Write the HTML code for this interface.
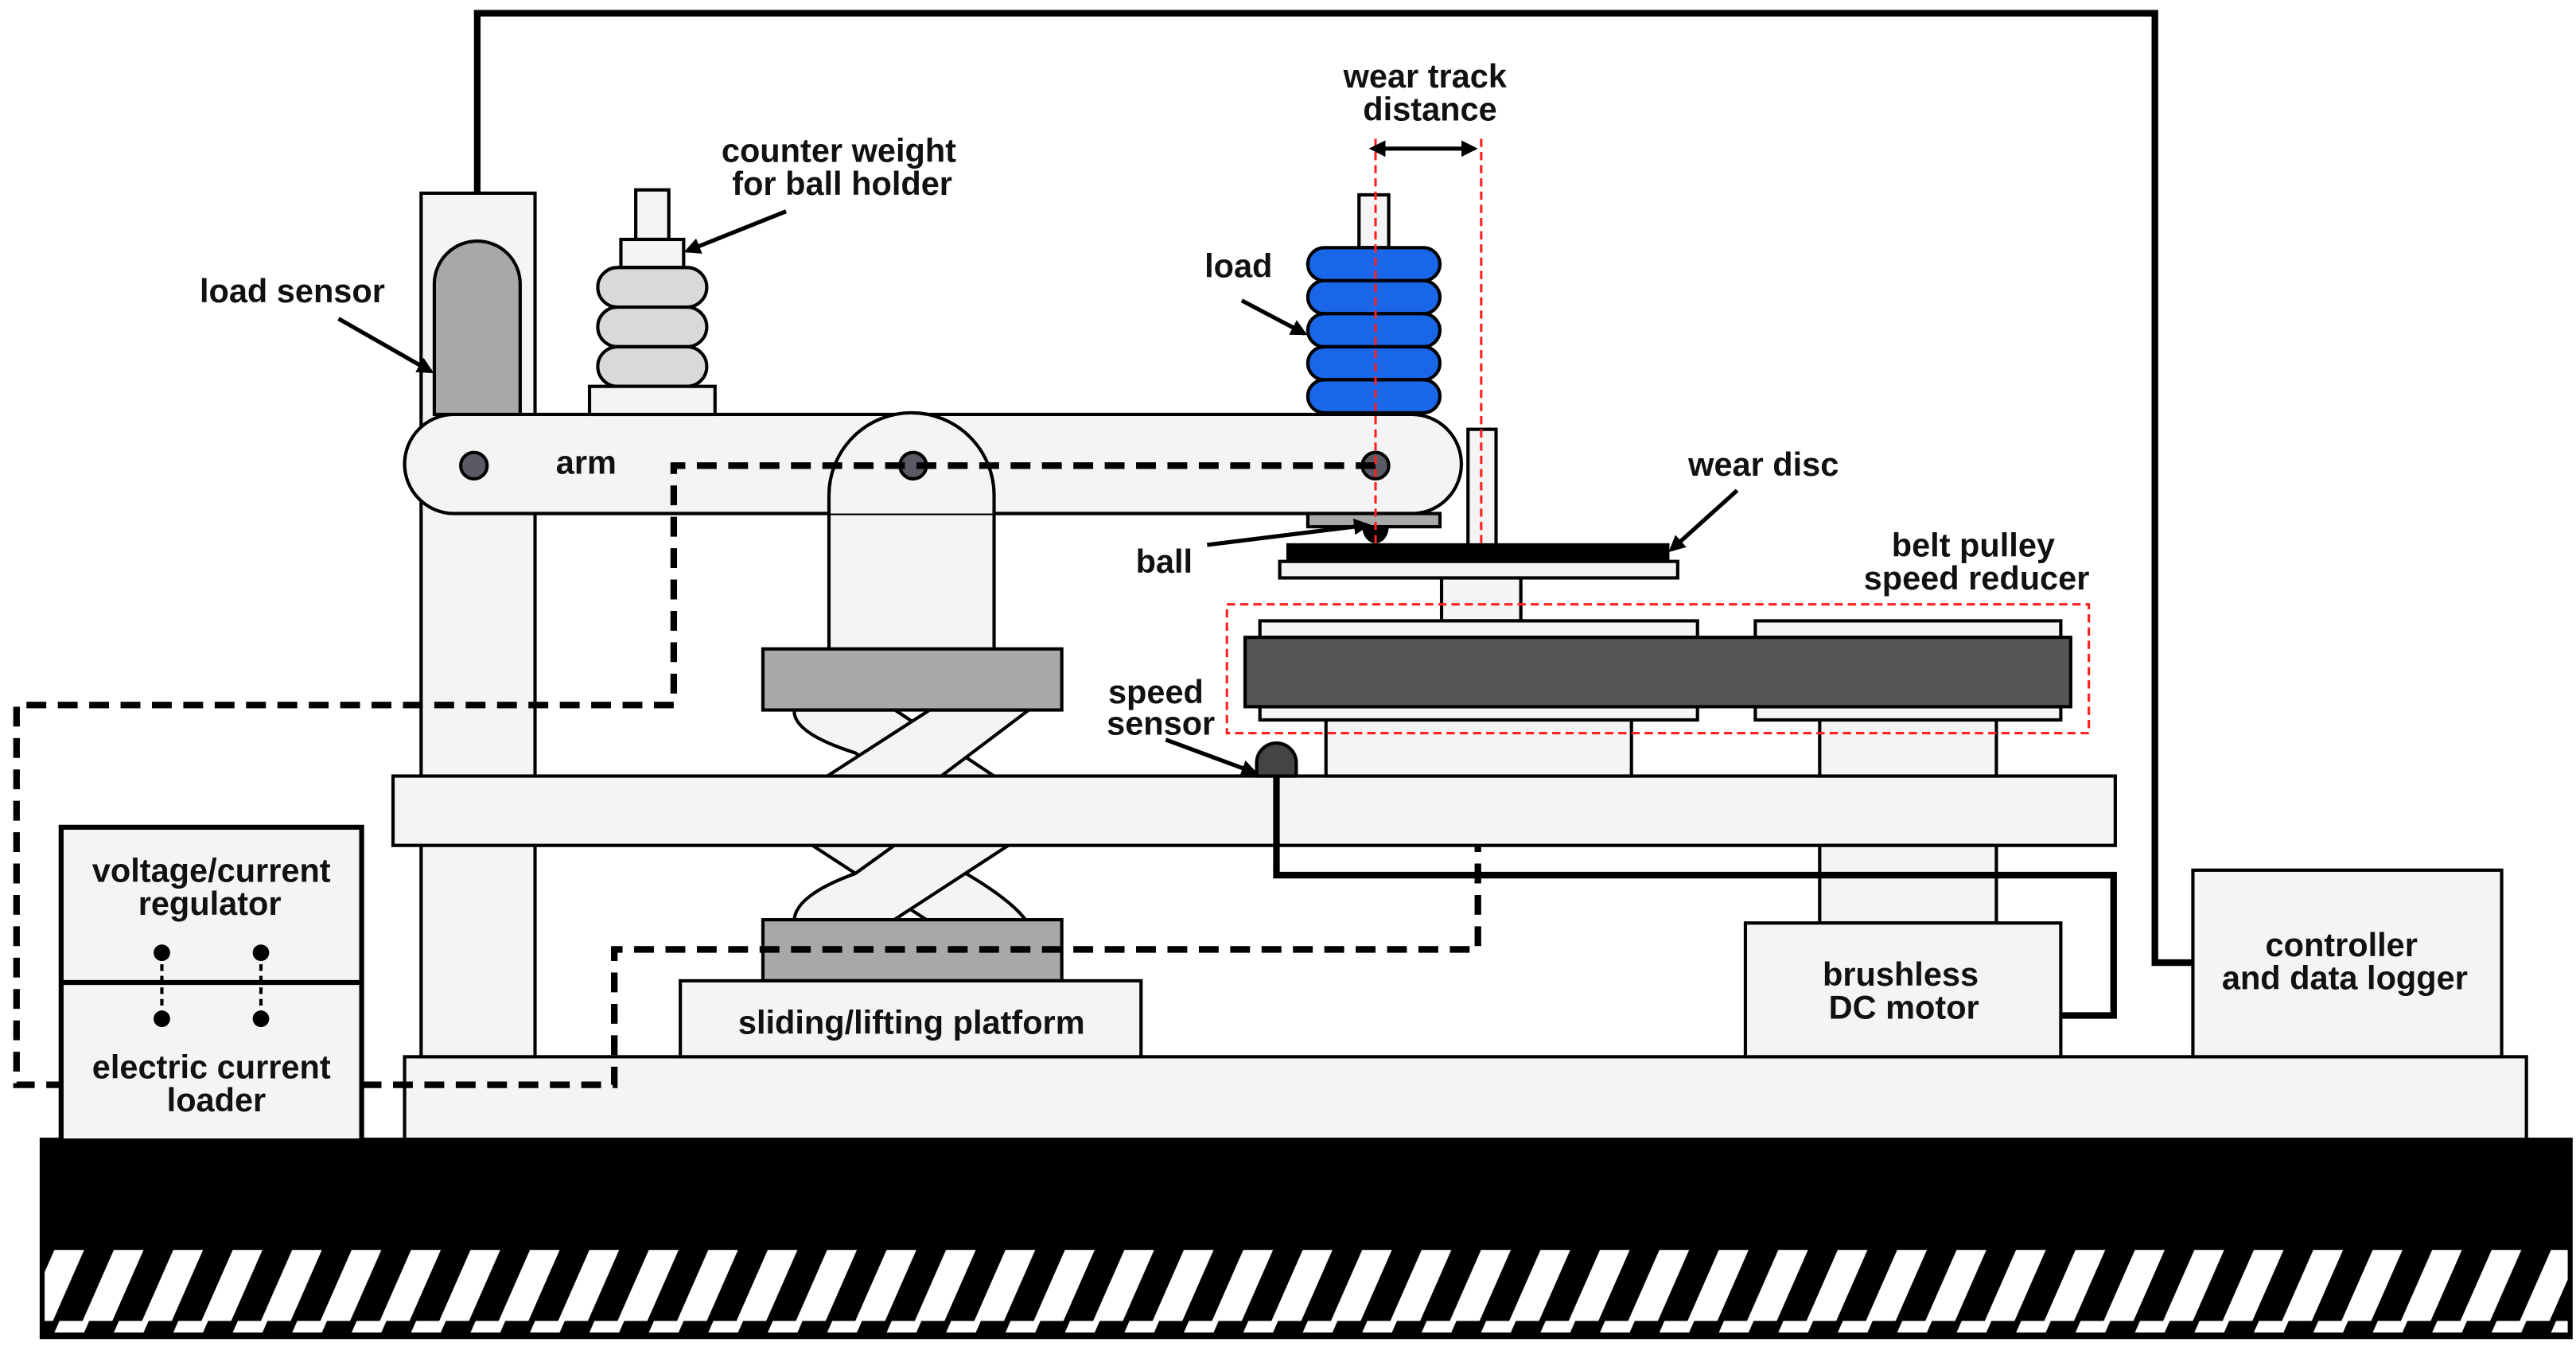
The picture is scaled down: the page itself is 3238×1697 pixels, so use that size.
<!DOCTYPE html>
<html><head><meta charset="utf-8"><style>html,body{margin:0;padding:0;background:#fff}svg{display:block}</style></head>
<body>
<svg width="3238" height="1697" viewBox="0 0 1560 817.6" xmlns="http://www.w3.org/2000/svg" font-family="Liberation Sans, sans-serif" font-weight="bold" font-size="20">
<defs>
<marker id="ah" markerWidth="10" markerHeight="10" refX="8" refY="5" orient="auto" markerUnits="userSpaceOnUse"><path d="M0,0 L10,5 L0,10 z" fill="#000"/></marker>
<marker id="ah2" markerWidth="10" markerHeight="10" refX="2" refY="5" orient="auto-start-reverse" markerUnits="userSpaceOnUse"><path d="M0,0 L10,5 L0,10 z" fill="#000"/></marker>
<pattern id="hatch" width="36" height="50" patternUnits="userSpaceOnUse"><rect width="36" height="50" fill="#000"/><polygon points="14,50 32,50 54,0 36,0" fill="#fff"/><polygon points="-22,50 -4,50 18,0 0,0" fill="#fff"/></pattern>
</defs>
<g stroke="#000" stroke-width="2">
<path d="M289,145 V8 H1305 V583 H1328" fill="none" stroke-width="4"/>
<rect x="25" y="690" width="1532" height="120" fill="#000"/>
<rect x="27" y="757" width="1528" height="50" fill="url(#hatch)" stroke="none"/>
<rect x="245" y="640" width="1285" height="50" fill="#f4f4f4"/>
<rect x="255" y="117" width="69" height="523" fill="#f4f4f4"/>
<!-- scissor upper -->
<g fill="#f4f4f4">
<path d="M481,430 L542,430 L602,470 L537,470 L518,456 Q480,444 481,430 Z"/>
<path d="M563,430 L623,430 L570,470 L501,470 Z"/>
<!-- scissor lower -->
<path d="M492,512 L545,512 L585,529 Q612,545 621,557 L561,557 Z"/>
<path d="M541.6,512 L610.6,512 L541.6,557 L481,557 Q482,542 518,529 Z"/>
</g>
<path d="M502,393 V300 A50,50 0 0 1 602,300 V393" fill="#f4f4f4"/>
<rect x="462" y="393" width="181" height="37" fill="#a8a8a8"/>
<rect x="462" y="557" width="181" height="37" fill="#a8a8a8"/>
<rect x="412" y="594" width="279" height="46" fill="#f4f4f4"/>
<rect x="238" y="470" width="1043" height="42" fill="#f4f4f4"/>
<rect x="803" y="436" width="185" height="34" fill="#f4f4f4"/>
<rect x="1102" y="436" width="107" height="34" fill="#f4f4f4"/>
<rect x="1102" y="512" width="107" height="47" fill="#f4f4f4"/>
<rect x="1057" y="559" width="191" height="81" fill="#f4f4f4"/>
<rect x="1328" y="527" width="187" height="113" fill="#f4f4f4"/>
<rect x="873" y="350" width="48" height="26" fill="#f4f4f4"/>
<rect x="763" y="376" width="265" height="10" fill="#f4f4f4"/>
<rect x="763" y="428" width="265" height="8" fill="#f4f4f4"/>
<rect x="1063" y="376" width="185" height="10" fill="#f4f4f4"/>
<rect x="1063" y="428" width="185" height="8" fill="#f4f4f4"/>
<rect x="754" y="386" width="500" height="42" fill="#555"/>
<rect x="245" y="251" width="640" height="60" rx="30" fill="#f4f4f4"/>
<path d="M502,311 V300 A50,50 0 0 1 602,300 V311" fill="#f4f4f4" stroke="none"/>
<path d="M502,311 V300 A50,50 0 0 1 602,300 V311" fill="none"/>
<path d="M263,251 V172 A26,26 0 0 1 315,172 V251 Z" fill="#a8a8a8"/>
<rect x="385" y="115" width="20" height="30" fill="#f4f4f4"/>
<rect x="376" y="145" width="38" height="17" fill="#f4f4f4"/>
<rect x="362" y="162" width="66" height="24" rx="12" fill="#d9d9d9"/>
<rect x="362" y="186" width="66" height="24" rx="12" fill="#d9d9d9"/>
<rect x="362" y="210" width="66" height="24" rx="12" fill="#d9d9d9"/>
<rect x="357" y="234" width="76" height="17" fill="#f4f4f4"/>
<rect x="823" y="118" width="18" height="32" fill="#f4f4f4"/>
<g fill="#1a66e8">
<rect x="792" y="150" width="80" height="20" rx="10"/>
<rect x="792" y="170" width="80" height="20" rx="10"/>
<rect x="792" y="190" width="80" height="20" rx="10"/>
<rect x="792" y="210" width="80" height="20" rx="10"/>
<rect x="792" y="230" width="80" height="20" rx="10"/>
</g>
<rect x="792" y="311" width="80" height="8" fill="#a8a8a8"/>
<path d="M826,319 A7,9 0 0 0 840,319 Z" fill="#000"/>
<rect x="889" y="260" width="17" height="75" fill="#f4f4f4"/>
<rect x="780" y="330" width="230" height="9" fill="#000"/>
<rect x="775" y="340" width="241" height="10" fill="#f4f4f4"/>
<circle cx="287" cy="282" r="8" fill="#5a5a66"/>
<circle cx="553" cy="282" r="8" fill="#5a5a66"/>
<circle cx="833" cy="282" r="8" fill="#5a5a66"/>
<path d="M761,470 V462 A12,12 0 0 1 785,462 V470 Z" fill="#444"/>
<rect x="37" y="501" width="182" height="190" fill="#f4f4f4" stroke-width="3"/>
<line x1="37" y1="595" x2="219" y2="595" stroke-width="3"/>
</g>
<g stroke="#000" stroke-width="2">
<line x1="98" y1="577" x2="98" y2="617" stroke-dasharray="4,3"/>
<line x1="158" y1="577" x2="158" y2="617" stroke-dasharray="4,3"/>
</g>
<circle cx="98" cy="577" r="5"/><circle cx="98" cy="617" r="5"/>
<circle cx="158" cy="577" r="5"/><circle cx="158" cy="617" r="5"/>
<path d="M773,470 V530 H1280 V615 H1248" fill="none" stroke="#000" stroke-width="4"/>
<g fill="none" stroke="#000" stroke-width="4" stroke-dasharray="12,7">
<path d="M833,282 H408 V427 H10 V657 H37"/>
<path d="M219,657 H372 V575 H895 V512"/>
</g>
<g fill="none" stroke="#ff2020" stroke-width="1.5" stroke-dasharray="5,3">
<line x1="833" y1="84" x2="833" y2="330"/>
<line x1="897" y1="84" x2="897" y2="330"/>
<rect x="743" y="366" width="522" height="78"/>
</g>
<g stroke="#000" stroke-width="2.5" fill="none">
<line x1="837" y1="90" x2="893" y2="90" marker-start="url(#ah2)" marker-end="url(#ah)"/>
<line x1="476" y1="128" x2="416" y2="152" marker-end="url(#ah)"/>
<line x1="205" y1="193" x2="261" y2="225" marker-end="url(#ah)"/>
<line x1="752" y1="182" x2="790" y2="202" marker-end="url(#ah)"/>
<line x1="731" y1="330" x2="828" y2="318" marker-end="url(#ah)"/>
<line x1="1052" y1="297" x2="1012" y2="333" marker-end="url(#ah)"/>
<line x1="706" y1="448" x2="760" y2="468" marker-end="url(#ah)"/>
</g>
<g fill="#111" text-anchor="middle">
<text x="863" y="53">wear track</text>
<text x="866" y="73">distance</text>
<text x="508" y="98">counter weight</text>
<text x="510" y="118">for ball holder</text>
<text x="177" y="183">load sensor</text>
<text x="750" y="168">load</text>
<text x="355" y="287">arm</text>
<text x="705" y="347">ball</text>
<text x="1068" y="288">wear disc</text>
<text x="1195" y="337">belt pulley</text>
<text x="1197" y="357">speed reducer</text>
<text x="700" y="426">speed</text>
<text x="703" y="445">sensor</text>
<text x="128" y="534">voltage/current</text>
<text x="127" y="554">regulator</text>
<text x="128" y="653">electric current</text>
<text x="131" y="673">loader</text>
<text x="552" y="626">sliding/lifting platform</text>
<text x="1151" y="597">brushless</text>
<text x="1153" y="617">DC motor</text>
<text x="1418" y="579">controller</text>
<text x="1420" y="599">and data logger</text>
</g>
</svg>
</body></html>
